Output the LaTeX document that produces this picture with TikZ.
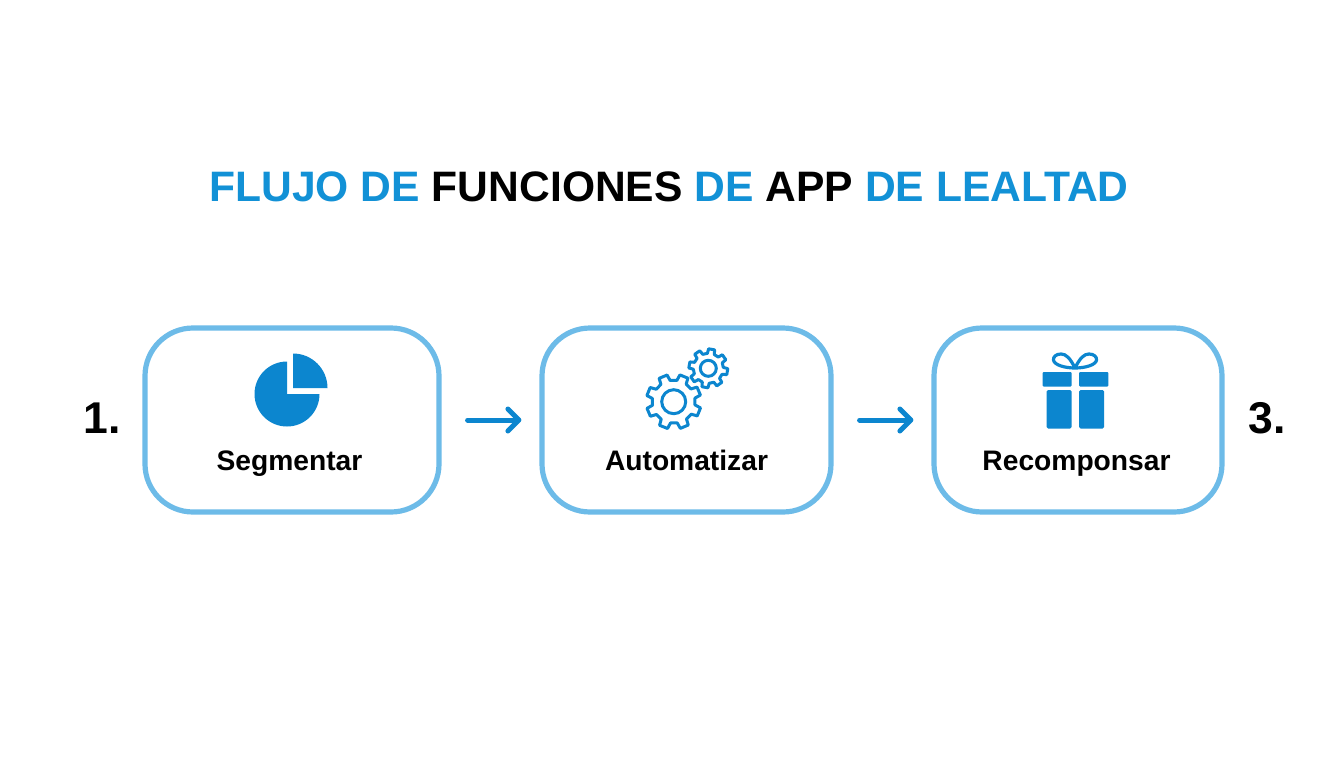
\documentclass[tikz,border=0pt]{standalone}
\usepackage{fontspec}
\setmainfont{Liberation Sans}
\usetikzlibrary{arrows.meta}
\definecolor{lightb}{HTML}{6DBBE8}
\definecolor{darkb}{HTML}{0C86CF}
\definecolor{titleb}{HTML}{1291D6}
\newcommand{\gearpath}[6]{% cx cy outer root teeth phase
  \pgfmathsetmacro{\st}{360/#5}
  \draw[gearline] ({#1+#3*cos(#6-0.2*\st)},{#2+#3*sin(#6-0.2*\st)})
  \foreach \k in {1,...,#5}{
    -- ({#1+#3*cos(#6+(\k-1)*\st+0.2*\st)},{#2+#3*sin(#6+(\k-1)*\st+0.2*\st)})
    -- ({#1+#4*cos(#6+(\k-1)*\st+0.3*\st)},{#2+#4*sin(#6+(\k-1)*\st+0.3*\st)})
    -- ({#1+#4*cos(#6+\k*\st-0.3*\st)},{#2+#4*sin(#6+\k*\st-0.3*\st)})
    -- ({#1+#3*cos(#6+\k*\st-0.2*\st)},{#2+#3*sin(#6+\k*\st-0.2*\st)})
  } -- cycle;
}
\tikzset{
  x=1pt,y=-1pt,
  card/.style={draw=lightb,line width=5.2pt,rounded corners=48pt,fill=white,inner sep=0pt},
  lab/.style={anchor=base,font=\bfseries\fontsize{28.2}{30}\selectfont,text=black,inner sep=0pt},
  num/.style={anchor=base,font=\bfseries\fontsize{44.5}{46}\selectfont,text=black,inner sep=0pt},
  ttl/.style={anchor=base,font=\bfseries\fontsize{42.6}{46}\selectfont,text=black,inner sep=0pt},
  flow/.style={draw=darkb,line width=5pt,line cap=round,-{Straight Barb[length=11pt,width=22pt,line width=5pt,round]}},
  gearline/.style={draw=darkb,line width=3pt,line join=round,fill=white},
  ico/.style={fill=darkb,draw=none},
}
\begin{document}
\begin{tikzpicture}
\useasboundingbox (0,0) rectangle (1344,768);
\fill[white] (0,0) rectangle (1344,768);
\node[ttl] (title) at (669,201) {\textcolor{titleb}{FLUJO DE} FUNCIONES \textcolor{titleb}{DE} APP \textcolor{titleb}{DE LEALTAD}};
\node[card,minimum width=294pt,minimum height=184pt] (b1) at (292,420) {};
\node[card,minimum width=289pt,minimum height=184pt] (b2) at (686.5,420) {};
\node[card,minimum width=288pt,minimum height=184pt] (b3) at (1078,420) {};
\node[lab] (l1) at (289.5,470) {Segmentar};
\node[lab] (l2) at (686.5,470) {Automatizar};
\node[lab] (l3) at (1076.5,470) {Recomponsar};
\node[num] (n1) at (102,433) {1.};
\node[num] (n3) at (1267,433) {3.};
\draw[flow,shorten <=26pt,shorten >=18pt] (b1.east) -- (b2.west);
\draw[flow,shorten <=26pt,shorten >=18pt] (b2.east) -- (b3.west);
% pie
\fill[ico] (287,394) -- (287,361.5) arc[start angle=90,end angle=360,radius=32.5pt] -- cycle;
\fill[ico] (293,388) -- (293,353.5) arc[start angle=90,end angle=0,radius=34.5pt] -- cycle;
% gears
\gearpath{708.3}{368.3}{19.5}{15}{8}{10}
\draw[gearline] (708.3,368.3) circle[radius=8pt];
\gearpath{673.7}{401.7}{27.5}{21.5}{8}{22}
\draw[gearline] (673.7,401.7) circle[radius=12pt];
% gift
\fill[ico,rounded corners=1pt] (1042.5,372) rectangle (1071.7,386.5);
\fill[ico,rounded corners=1pt] (1079,372) rectangle (1108.3,386.5);
\fill[ico,rounded corners=1.5pt] (1046.7,390) rectangle (1071.7,428.5);
\fill[ico,rounded corners=1.5pt] (1079,390) rectangle (1104,428.5);
\draw[darkb,line width=3.2pt,line join=round,line cap=round]
  (1075,368) .. controls (1070,358) and (1066,354) .. (1061,354)
  .. controls (1056,354) and (1053,357) .. (1053.5,360)
  .. controls (1054,365) and (1065,368) .. (1075,368)
  .. controls (1080,358) and (1084,354) .. (1089,354)
  .. controls (1094,354) and (1097,357) .. (1096.5,360)
  .. controls (1096,365) and (1085,368) .. (1075,368);
\end{tikzpicture}
\end{document}
